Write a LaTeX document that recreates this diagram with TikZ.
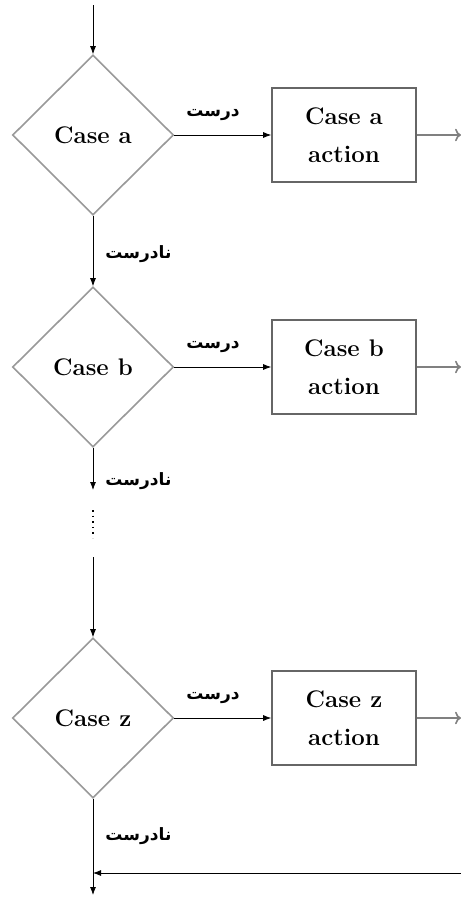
\documentclass[tikz,border=0pt]{standalone}
\usepackage{fontspec}
\usepackage{tikz}
\usetikzlibrary{arrows.meta,shapes.geometric}
\TeXXeTstate=1
\newfontfamily\farsifont[Script=Arabic]{DejaVu Sans}
\newcommand{\fa}[1]{{\farsifont\bfseries\beginR #1\endR}}

\tikzset{
  decision/.style={diamond, draw=black!40, thick, aspect=1, inner sep=0pt,
    minimum width=80.5pt, minimum height=80pt, font=\large\bfseries},
  actionbox/.style={rectangle, draw=black!60, thick, minimum width=72pt,
    minimum height=47pt, align=center, font=\large\bfseries},
  flow/.style={-{Latex[length=4pt,width=3pt]}, black},
  outflow/.style={-{To[length=3pt]}, black!50, thick},
  yeslabel/.style={font=\fontsize{8.5}{9}\selectfont, inner sep=1pt}
}

\begin{document}
\begin{tikzpicture}[x=0.5pt,y=-0.5pt]
\useasboundingbox (0,0) rectangle (461,901);
\foreach \c/\y in {a/135,b/367,z/718}{
    \node[decision] (case\c) at (93,\y) {Case \c};
    \node[actionbox] (act\c) at (344,\y) {Case \c\\[5pt]action};
    \coordinate (out\c) at (461,\y);
    \draw[flow] (case\c.east) -- node[above=6pt, pos=0.4, yeslabel] {\fa{درست}} (act\c.west);
    \draw[outflow] (act\c.east) -- (out\c);
}
\coordinate (start) at (93,5);
\coordinate (dotA) at (93,490);
\coordinate (dotB) at (93,510);
\coordinate (dotC) at (93,538);
\coordinate (dotD) at (93,557);
\coordinate (join) at (93,873);
\coordinate (joinR) at (461,873);
\coordinate (finish) at (93,895);
\draw[flow] (start) -- (casea.north);
\draw[flow] (casea.south) -- node[right=5pt, pos=0.55, yeslabel] {\fa{نادرست}} (caseb.north);
\draw[flow] (caseb.south) -- node[right=5pt, pos=0.78, yeslabel] {\fa{نادرست}} (dotA);
\draw[dotted, thick] (dotB) -- (dotC);
\draw[flow] (dotD) -- (casez.north);
\draw (casez.south) -- node[right=5pt, pos=0.5, yeslabel] {\fa{نادرست}} (join);
\draw[flow] (joinR) -- (join);
\draw[flow] (join) -- (finish);
\end{tikzpicture}
\end{document}
